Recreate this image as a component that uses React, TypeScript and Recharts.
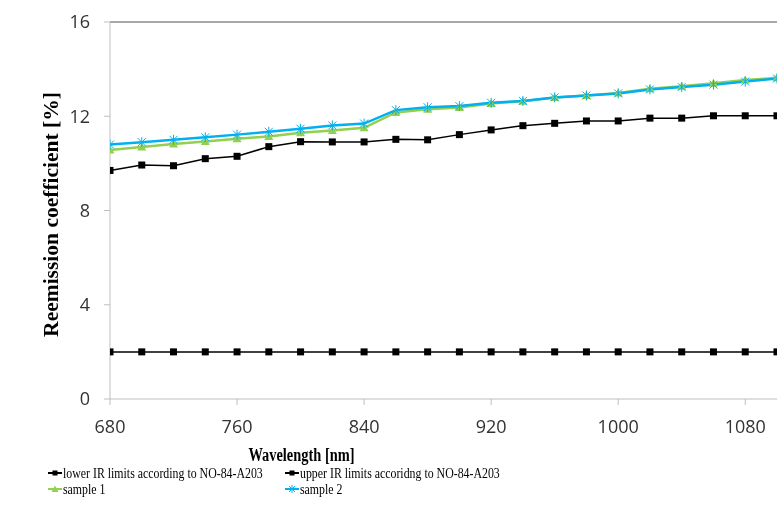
import React from "react";
import { LineChart, Line, XAxis, YAxis, ReferenceLine, Legend } from "recharts";

const wavelengths = [680, 700, 720, 740, 760, 780, 800, 820, 840, 860, 880, 900, 920, 940, 960, 980, 1000, 1020, 1040, 1060, 1080, 1100];
const lowerLimit = [2, 2, 2, 2, 2, 2, 2, 2, 2, 2, 2, 2, 2, 2, 2, 2, 2, 2, 2, 2, 2, 2];
const upperLimit = [9.7, 9.93, 9.9, 10.2, 10.3, 10.71, 10.92, 10.91, 10.91, 11.02, 11.0, 11.22, 11.42, 11.6, 11.7, 11.8, 11.8, 11.92, 11.92, 12.02, 12.02, 12.02];
const sample1 = [10.57, 10.69, 10.82, 10.93, 11.04, 11.14, 11.3, 11.4, 11.51, 12.16, 12.3, 12.37, 12.54, 12.64, 12.8, 12.88, 12.99, 13.17, 13.27, 13.4, 13.54, 13.63];
const sample2 = [10.8, 10.9, 11.0, 11.11, 11.22, 11.34, 11.47, 11.61, 11.69, 12.26, 12.38, 12.43, 12.57, 12.65, 12.8, 12.88, 12.97, 13.14, 13.24, 13.34, 13.47, 13.6];

const xTicks = [680, 760, 840, 920, 1000, 1080];
const yTicks = [0, 4, 8, 12, 16];

const seriesNames = {
  lower: "lower IR limits according to NO-84-A203",
  upper: "upper IR limits accoridng to NO-84-A203",
  s1: "sample 1",
  s2: "sample 2",
};

const GREEN = "#92D050";
const BLUE = "#00B0F0";

const data = wavelengths.map((w, i) => ({
  w,
  lower: lowerLimit[i],
  upper: upperLimit[i],
  s1: sample1[i],
  s2: sample2[i],
}));

const SquareDot = (props: any) => {
  const { cx, cy, index, dataKey } = props;
  if (cx == null || cy == null) return <g key={`${dataKey}-${index}`} />;
  return <rect key={`${dataKey}-${index}`} x={cx - 3.5} y={cy - 3.5} width={7} height={7} fill="#000" />;
};

const TriangleDot = (props: any) => {
  const { cx, cy, index } = props;
  if (cx == null || cy == null) return <g key={`t-${index}`} />;
  return (
    <polygon
      key={`t-${index}`}
      points={`${cx},${cy - 4.5} ${cx + 4.5},${cy + 3.5} ${cx - 4.5},${cy + 3.5}`}
      fill={GREEN}
    />
  );
};

const StarDot = (props: any) => {
  const { cx, cy, index } = props;
  if (cx == null || cy == null) return <g key={`st-${index}`} />;
  const r = 4;
  return (
    <g key={`st-${index}`} stroke={BLUE} strokeWidth={1}>
      <line x1={cx - r} y1={cy - r} x2={cx + r} y2={cy + r} />
      <line x1={cx - r} y1={cy + r} x2={cx + r} y2={cy - r} />
      <line x1={cx} y1={cy - r - 1} x2={cx} y2={cy + r + 1} />
    </g>
  );
};

const legendEntries = [
  { key: "lower", label: seriesNames.lower, color: "#000", marker: "square" },
  { key: "upper", label: seriesNames.upper, color: "#000", marker: "square" },
  { key: "s1", label: seriesNames.s1, color: GREEN, marker: "triangle" },
  { key: "s2", label: seriesNames.s2, color: BLUE, marker: "star" },
];

const LegendIcon = ({ color, marker }: { color: string; marker: string }) => (
  <svg width={14} height={10} style={{ display: "block", marginRight: 1, flex: "none" }}>
    <line x1={0} y1={5} x2={14} y2={5} stroke={color} strokeWidth={2} />
    {marker === "square" && <rect x={4.5} y={2.5} width={5} height={5} fill={color} />}
    {marker === "triangle" && <polygon points="7,1.5 10.5,8 3.5,8" fill={color} />}
    {marker === "star" && (
      <g stroke={color} strokeWidth={1}>
        <line x1={4} y1={2} x2={10} y2={8} />
        <line x1={4} y1={8} x2={10} y2={2} />
        <line x1={7} y1={1} x2={7} y2={9} />
      </g>
    )}
  </svg>
);

const renderLegend = () => (
  <div
    style={{
      display: "grid",
      gridTemplateColumns: "237px auto",
      paddingLeft: 40,
      fontFamily: "'Liberation Serif', 'Times New Roman', serif",
      fontSize: 15,
      color: "#000",
      lineHeight: "16px",
    }}
  >
    {legendEntries.map((e) => (
      <div key={e.key} style={{ display: "flex", alignItems: "center", height: 16 }}>
        <LegendIcon color={e.color} marker={e.marker} />
        <span
          style={{
            whiteSpace: "nowrap",
            display: "inline-block",
            transform: "scaleX(0.79)",
            transformOrigin: "left center",
          }}
        >
          {e.label}
        </span>
      </div>
    ))}
  </div>
);

const XTitle = (props: any) => {
  const vb = props.viewBox || {};
  const cx = vb.x + vb.width / 2 - 142;
  const y = vb.y + 62;
  return (
    <text
      x={0}
      y={0}
      transform={`translate(${cx}, ${y}) scale(0.76, 1)`}
      textAnchor="middle"
      fontFamily="'Liberation Serif', 'Times New Roman', serif"
      fontWeight="bold"
      fontSize={19}
      fill="#000"
    >
      Wavelength [nm]
    </text>
  );
};

const YTitle = (props: any) => {
  const vb = props.viewBox || {};
  const x = vb.x + 50;
  const y = vb.y + vb.height / 2 + 4;
  return (
    <text
      x={x}
      y={y}
      transform={`rotate(-90, ${x}, ${y})`}
      textAnchor="middle"
      fontFamily="'Liberation Serif', 'Times New Roman', serif"
      fontWeight="bold"
      fontSize={21.5}
      fill="#000"
    >
      Reemission coefficient [%]
    </text>
  );
};

const tickStyle = { fontFamily: "'Open Sans', sans-serif", fontSize: 18, fill: "#333" };

export default function App() {
  return (
    <div style={{ width: 769, height: 506, overflow: "hidden", position: "fixed", left: 8, top: 8 }}>
      <LineChart width={769} height={506} data={data} margin={{ top: 14, right: 0, bottom: 75, left: 0 }}>
        <XAxis
          dataKey="w"
          type="number"
          domain={[680, 1100]}
          ticks={xTicks}
          allowDataOverflow
          stroke="#bfbfbf"
          tickSize={6}
          tickMargin={15}
          tick={tickStyle}
          height={40}
          label={<XTitle />}
        />
        <YAxis
          type="number"
          domain={[0, 16]}
          ticks={yTicks}
          stroke="#bfbfbf"
          width={102}
          tickSize={6}
          tickMargin={14}
          tick={tickStyle}
          label={<YTitle />}
        />
        <ReferenceLine y={16} stroke="#8c8c8c" strokeWidth={1.5} />
        <Legend
          layout="horizontal"
          verticalAlign="middle"
          align="center"
          content={renderLegend}
          wrapperStyle={{ top: 457, left: 0, width: 769 }}
        />
        <Line dataKey="lower" name={seriesNames.lower} stroke="#000" strokeWidth={1.5} dot={SquareDot} activeDot={false} isAnimationActive={false} />
        <Line dataKey="upper" name={seriesNames.upper} stroke="#000" strokeWidth={1.5} dot={SquareDot} activeDot={false} isAnimationActive={false} />
        <Line dataKey="s1" name={seriesNames.s1} stroke={GREEN} strokeWidth={2.5} dot={TriangleDot} activeDot={false} isAnimationActive={false} />
        <Line dataKey="s2" name={seriesNames.s2} stroke={BLUE} strokeWidth={2.5} dot={StarDot} activeDot={false} isAnimationActive={false} />
      </LineChart>
    </div>
  );
}
